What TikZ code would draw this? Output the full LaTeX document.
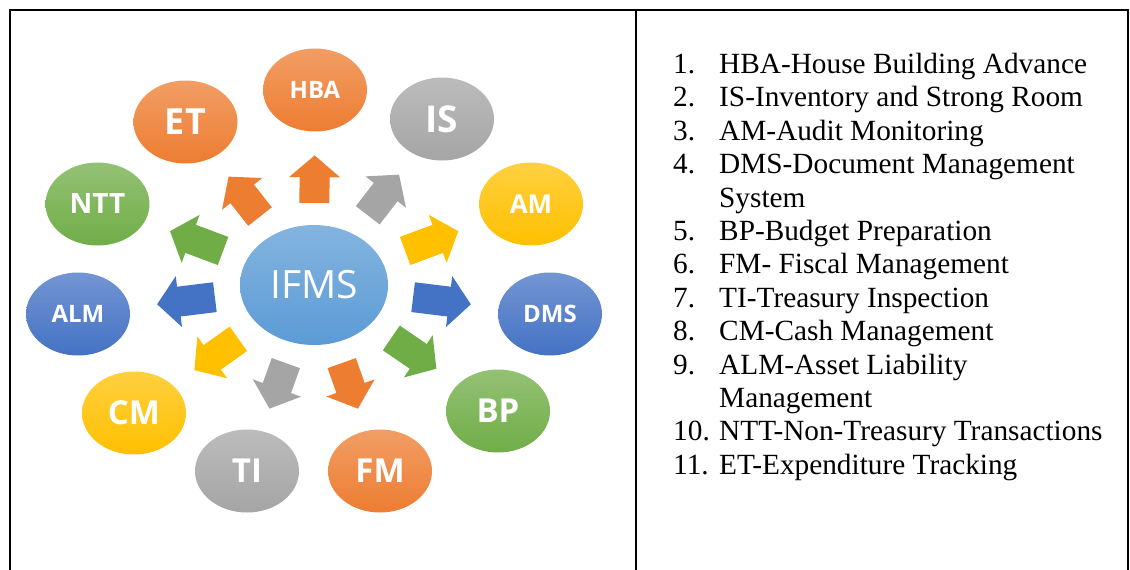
\documentclass[tikz,border=0pt]{standalone}
\usepackage{fontspec}
\setmainfont{Liberation Serif}
\setsansfont{Open Sans}
\usetikzlibrary{shapes.geometric,arrows.meta,calc}
\definecolor{accorange}{HTML}{ED7D31}
\definecolor{accgray}{HTML}{A5A5A5}
\definecolor{accyellow}{HTML}{FFC000}
\definecolor{accblue}{HTML}{4472C4}
\definecolor{accgreen}{HTML}{70AD47}
\definecolor{acclight}{HTML}{5B9BD5}
\newcommand{\ringfont}[1]{\fontsize{#1}{#1}\selectfont}
\tikzset{
  bubble/.style={ellipse, minimum width=104pt, minimum height=83pt, inner sep=0pt,
    text=white, font=\sffamily\bfseries, top color=#1!75!white, bottom color=#1},
  blockarrow/.style={draw=#1, line width=30pt, -{Triangle[width=50pt,length=22pt]}},
  listtext/.style={anchor=base west, inner sep=0pt, font=\fontsize{29.3}{33}\selectfont},
}
\begin{document}
\begin{tikzpicture}[x=1pt,y=-1pt]
\useasboundingbox (0,0) rectangle (1130,570);
% frame
\draw[line width=2pt] (10,570) -- (10,10) -- (1128,10) -- (1128,570);
\draw[line width=2pt] (636,10) -- (636,570);

% hub and modules
\node[bubble=acclight, minimum width=148pt, minimum height=120pt, font=\sffamily] (ifms) at (314,285) {\ringfont{39}IFMS};
\node[bubble=accorange] (hba) at (315,90) {\ringfont{24}HBA};
\node[bubble=accgray] (is) at (442,119) {\ringfont{37}IS};
\node[bubble=accyellow] (am) at (531,204) {\ringfont{26}AM};
\node[bubble=accblue] (dms) at (550,314) {\ringfont{24}DMS};
\node[bubble=accgreen] (bp) at (498,411) {\ringfont{33}BP};
\node[bubble=accorange] (fm) at (380,471) {\ringfont{33}FM};
\node[bubble=accgray] (ti) at (247,471) {\ringfont{33}TI};
\node[bubble=accyellow] (cm) at (134,413) {\ringfont{33}CM};
\node[bubble=accblue] (alm) at (78,314) {\ringfont{24}ALM};
\node[bubble=accgreen] (ntt) at (97.5,204) {\ringfont{28}NTT};
\node[bubble=accorange] (et) at (185.5,122) {\ringfont{36}ET};

% block arrows
\foreach \n/\c in {hba/accorange, is/accgray, am/accyellow, dms/accblue, bp/accgreen,
    fm/accorange, ti/accgray, cm/accyellow, alm/accblue, ntt/accgreen, et/accorange}
  \draw[blockarrow=\c] ($(ifms)!0.42!(\n)$) -- ($(ifms)!0.665!(\n)$);

% legend
\foreach \k/\num in {0/1., 1/2., 2/3., 3/4., 5/5., 6/6., 7/7., 8/8., 9/9., 11/10., 12/11.}
  \node[listtext] (num\k) at (673, 73.5+33.4*\k) {\num};
\foreach \k/\txt in {0/HBA-House Building Advance, 1/IS-Inventory and Strong Room,
    2/AM-Audit Monitoring, 3/DMS-Document Management, 4/System,
    5/BP-Budget Preparation, 6/FM- Fiscal Management, 7/TI-Treasury Inspection,
    8/CM-Cash Management, 9/ALM-Asset Liability, 10/Management,
    11/NTT-Non-Treasury Transactions, 12/ET-Expenditure Tracking}
  \node[listtext] (item\k) at (719, 73.5+33.4*\k) {\txt};
\end{tikzpicture}
\end{document}
